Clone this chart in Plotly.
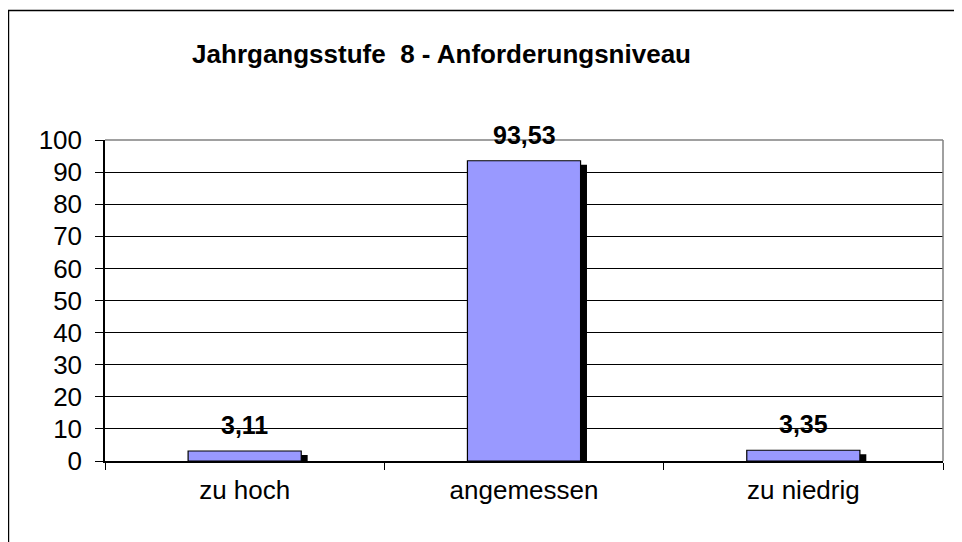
import plotly.graph_objects as go

categories = ["zu hoch", "angemessen", "zu niedrig"]
values = [3.11, 93.53, 3.35]
y_ticks = [0, 10, 20, 30, 40, 50, 60, 70, 80, 90, 100]
title_text = "Jahrgangsstufe  8 - Anforderungsniveau"

FONT = "Arial, 'Liberation Sans', sans-serif"
BAR_W = 0.405
SHADOW_DX = 0.023   # category units
SHADOW_DY = 1.25    # value units

fig = go.Figure()
# shadow
fig.add_trace(go.Bar(
    x=categories, y=[v - SHADOW_DY for v in values],
    width=BAR_W, offset=-BAR_W / 2 + SHADOW_DX,
    marker=dict(color="black", line=dict(width=0)),
    hoverinfo="skip", showlegend=False,
))
# bars
fig.add_trace(go.Bar(
    x=categories, y=values,
    width=BAR_W, offset=-BAR_W / 2,
    marker=dict(color="#9999FF", line=dict(color="black", width=1.2)),
    showlegend=False,
))

for c, v in zip(categories, values):
    fig.add_annotation(
        x=c, y=v, text=f"{v:.2f}".replace(".", ","),
        showarrow=False, yanchor="middle", yshift=26,
        font=dict(family=FONT, size=25, color="black", weight="bold"),
    )

# plot-area border (top/right, gray)
fig.add_shape(type="line", xref="paper", yref="paper", x0=0, x1=1, y0=1, y1=1,
              line=dict(color="#808080", width=1.5), layer="above")
fig.add_shape(type="line", xref="paper", yref="paper", x0=1, x1=1, y0=0, y1=1,
              line=dict(color="#808080", width=1.5), layer="above")
# outer chart frame
fig.add_shape(type="rect", xref="paper", yref="paper",
              x0=-0.1152, x1=1.05, y0=-0.3, y1=1.4034,
              line=dict(color="black", width=1.5), layer="above")

fig.update_layout(
    width=954, height=534,
    margin=dict(l=97, r=19, t=132, b=81),
    paper_bgcolor="white", plot_bgcolor="white",
    barmode="overlay",
    font=dict(family=FONT, size=26, color="black"),
    title=dict(text=title_text, xref="paper", x=0.4016, xanchor="center",
               yref="container", y=1 - 46 / 534, yanchor="middle",
               font=dict(family=FONT, size=26, color="black", weight="bold")),
    xaxis=dict(
        type="category", range=[-0.5, 2.5],
        showline=True, linecolor="black", linewidth=1.5,
        ticks="outside", tickson="boundaries", ticklen=7, tickcolor="black",
        showgrid=False, tickfont=dict(size=26), ticklabelstandoff=5,
    ),
    yaxis=dict(
        range=[0, 100], tickvals=y_ticks,
        showline=True, linecolor="black", linewidth=1.5,
        ticks="outside", ticklen=8, tickcolor="black",
        showgrid=True, gridcolor="black", gridwidth=1,
        zeroline=False, tickfont=dict(size=26), ticklabelstandoff=8,
    ),
)

fig.write_html("out.html")
